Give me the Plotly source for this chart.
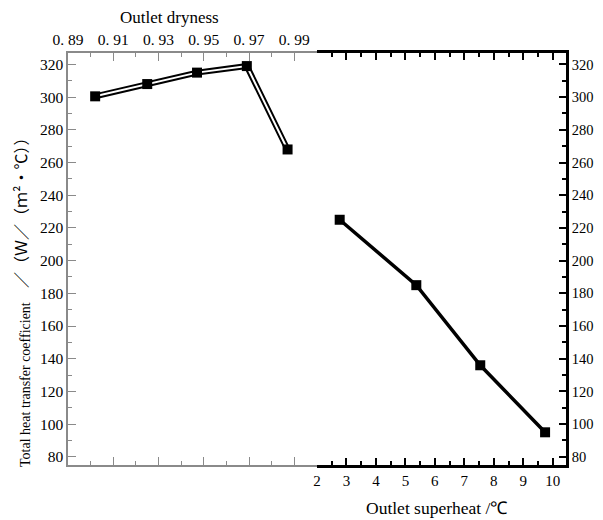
import plotly.graph_objects as go

# Data
dryness = [0.902, 0.925, 0.947, 0.969, 0.987]
k_dryness = [300.5, 308.0, 315.0, 319.0, 268.0]
superheat = [2.77, 5.37, 7.54, 9.74]
k_superheat = [225.0, 185.0, 136.0, 95.0]

dry_ticks = [0.89, 0.91, 0.93, 0.95, 0.97, 0.99]
dry_labels = ["0. 89", "0. 91", "0. 93", "0. 95", "0. 97", "0. 99"]
sh_ticks = [2, 3, 4, 5, 6, 7, 8, 9, 10]
y_ticks = [80, 100, 120, 140, 160, 180, 200, 220, 240, 260, 280, 300, 320]

SERIF = "Liberation Serif, Times New Roman, serif"
CJK = "Noto Sans CJK SC"
GRAY = "#8a8a8a"

# page body has an 8px default margin, so the figure is 8px smaller on each axis
W, H = 595, 512
OFF = 8

def px(xr):  # reference x pixel -> paper x
    return (xr - 68) / 498

def py(yr_):  # reference y pixel -> paper y
    return (465 - yr_) / 412

fig = go.Figure()
# left series: double line (black outer, white inner)
fig.add_trace(go.Scatter(x=dryness, y=k_dryness, mode="lines",
                         line=dict(color="black", width=6), xaxis="x", yaxis="y",
                         showlegend=False, hoverinfo="skip"))
fig.add_trace(go.Scatter(x=dryness, y=k_dryness, mode="lines",
                         line=dict(color="white", width=2), xaxis="x", yaxis="y",
                         showlegend=False, hoverinfo="skip"))
fig.add_trace(go.Scatter(x=dryness, y=k_dryness, mode="markers",
                         marker=dict(symbol="square", size=10, color="black"),
                         xaxis="x", yaxis="y", showlegend=False))
# right series
fig.add_trace(go.Scatter(x=superheat, y=k_superheat, mode="lines+markers",
                         line=dict(color="black", width=3.5),
                         marker=dict(symbol="square", size=10, color="black"),
                         xaxis="x2", yaxis="y2", showlegend=False))

yr = [75, 327]
fig.update_layout(
    width=W, height=H,
    margin=dict(l=68 - OFF, r=37, t=53 - OFF, b=55, autoexpand=False),
    paper_bgcolor="white", plot_bgcolor="white",
    font=dict(family=SERIF, size=15, color="black"),
    xaxis=dict(domain=[0, 0.5], range=[0.89, 1.0], anchor="y", side="top",
               tickmode="array", tickvals=dry_ticks, ticktext=dry_labels,
               showline=True, linecolor=GRAY, linewidth=1.5, mirror="ticks",
               ticks="inside", ticklen=8, tickcolor=GRAY, tickwidth=1.2,
               minor=dict(tick0=0.89, dtick=0.01, ticks="inside", ticklen=4,
                          tickcolor=GRAY, tickwidth=1.2),
               showgrid=False, zeroline=False, tickfont=dict(size=15.5),
               automargin=False),
    yaxis=dict(domain=[0, 1], range=yr, anchor="x", side="left",
               tickmode="array", tickvals=y_ticks,
               showline=True, linecolor=GRAY, linewidth=1.5,
               ticks="inside", ticklen=8, tickcolor=GRAY, tickwidth=1.2,
               minor=dict(tick0=80, dtick=10, ticks="inside", ticklen=4,
                          tickcolor=GRAY, tickwidth=1.2),
               showgrid=False, zeroline=False, tickfont=dict(size=15.5),
               automargin=False),
    xaxis2=dict(domain=[0.5, 1], range=[2, 10.45], anchor="y2", side="bottom",
                tickmode="array", tickvals=sh_ticks,
                showline=True, linecolor="black", linewidth=2.5, mirror="ticks",
                ticks="inside", ticklen=7, tickcolor="black", tickwidth=2,
                minor=dict(tick0=2, dtick=0.5, ticks="inside", ticklen=4,
                           tickcolor="black", tickwidth=2),
                showgrid=False, zeroline=False, tickfont=dict(size=15),
                automargin=False),
    yaxis2=dict(domain=[0, 1], range=yr, anchor="x2", side="right",
                tickmode="array", tickvals=y_ticks,
                showline=True, linecolor="black", linewidth=2.5,
                ticks="inside", ticklen=7, tickcolor="black", tickwidth=2,
                minor=dict(tick0=80, dtick=10, ticks="inside", ticklen=4,
                           tickcolor="black", tickwidth=2),
                showgrid=False, zeroline=False, tickfont=dict(size=14.5),
                automargin=False),
    annotations=[
        dict(text="Outlet dryness", xref="paper", yref="paper", x=px(169), y=py(17),
             xanchor="center", yanchor="middle",
             showarrow=False, font=dict(size=17, family=SERIF)),
        dict(text="Outlet superheat /℃", xref="paper", yref="paper", x=px(436), y=py(508),
             xanchor="center", yanchor="middle",
             showarrow=False, font=dict(size=17.5, family=SERIF)),
        dict(text="Total heat transfer coefficient",
             xref="paper", yref="paper", x=px(25), y=py(385),
             xanchor="center", yanchor="middle",
             textangle=-90, showarrow=False, font=dict(size=14, family=SERIF)),
        dict(text="／（Ｗ／（ｍ²•℃））",
             xref="paper", yref="paper", x=px(20), y=py(209),
             xanchor="center", yanchor="middle",
             textangle=-90, showarrow=False,
             font=dict(size=16, family=CJK, color="black")),
    ],
)

fig.write_html("out.html")
